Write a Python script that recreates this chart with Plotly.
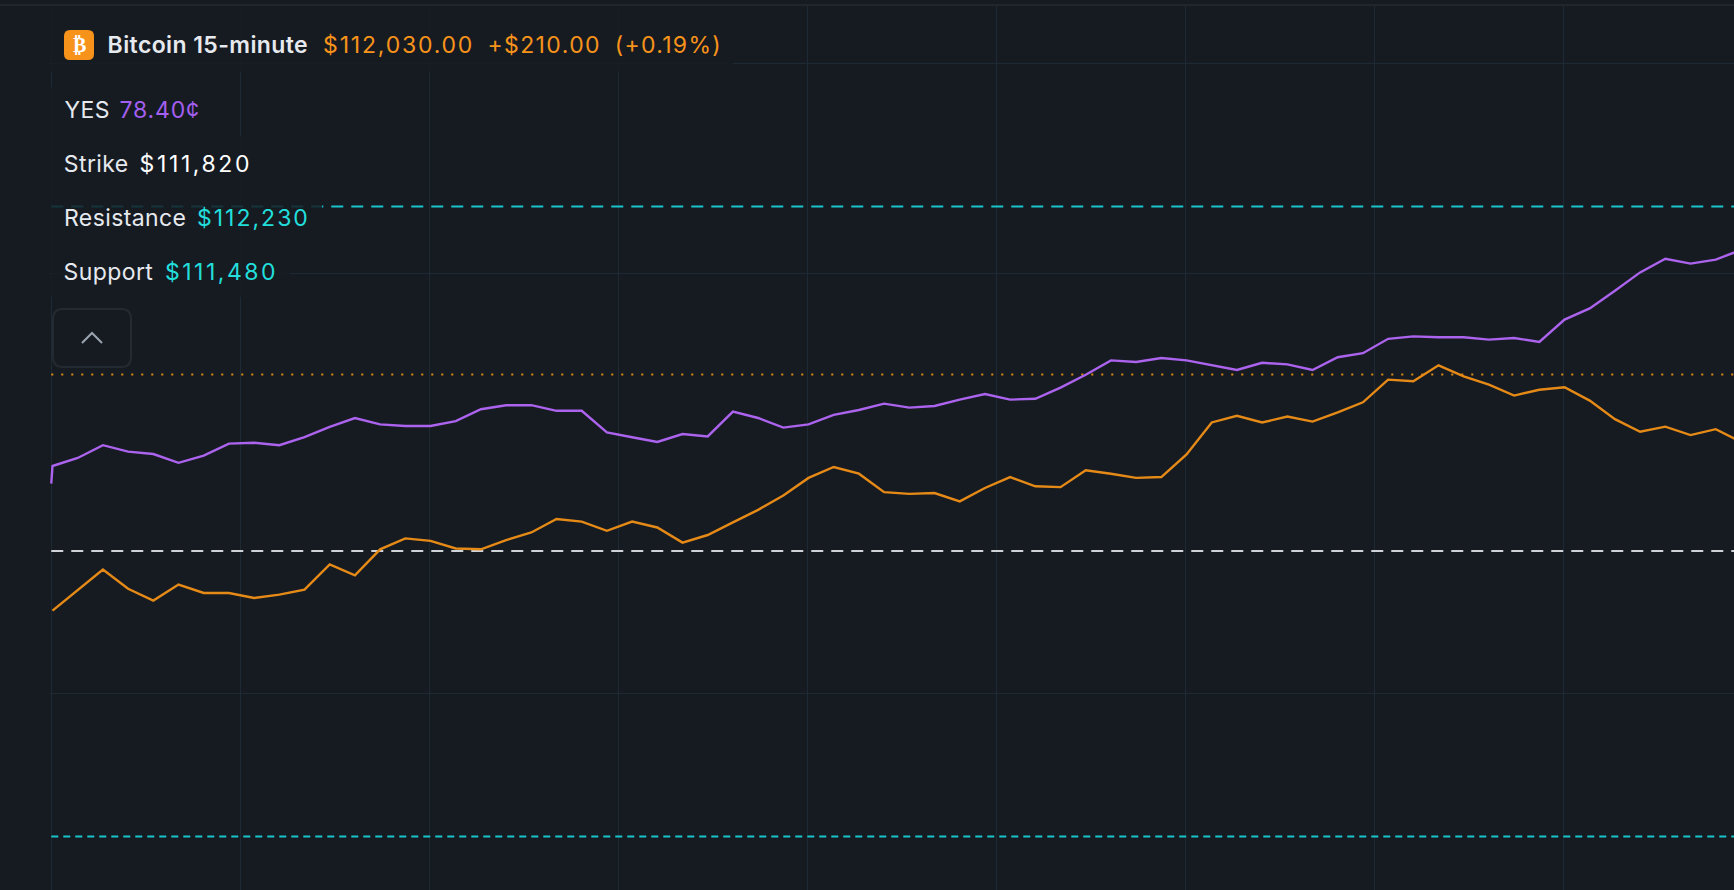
"""Bitcoin 15-minute market chart: spot price and YES contract price."""

import plotly.graph_objects as go

WIDTH = 1734
HEIGHT = 890
MARGIN_L = 50
MARGIN_T = 6

# seconds since the window opened
PRICE_TIMES = [
    0.2, 4.2, 8.2, 12.2, 16.2, 20.2, 24.2, 28.2, 32.2, 36.2, 40.2, 44.2, 48.2, 52.2, 56.2, 60.2, 64.2,
    68.2, 72.2, 76.2, 80.2, 84.2, 88.2, 92.2, 96.2, 100.2, 104.2, 108.2, 112.2, 116.2, 120.2, 124.2,
    128.2, 132.2, 136.2, 140.2, 144.2, 148.2, 152.2, 156.2, 160.2, 164.2, 168.2, 172.2, 176.2, 180.2,
    184.2, 188.2, 192.2, 196.2, 200.2, 204.2, 208.2, 212.2, 216.2, 220.2, 224.2, 228.2, 232.2, 236.2,
    240.2, 244.2, 248.2, 252.2, 256.2, 260.2, 264.2, 268.2,
]
YES_TIMES = [0.0] + PRICE_TIMES

BTC_PRICE = [
    111749, 111774, 111798, 111775, 111761, 111780, 111770, 111770, 111764, 111768, 111774, 111804,
    111791, 111822, 111835, 111832, 111823, 111822, 111833, 111842, 111858, 111855, 111844, 111855,
    111848, 111830, 111839, 111854, 111869, 111886, 111907, 111920, 111912, 111890, 111888, 111889,
    111879, 111895, 111908, 111897, 111896, 111916, 111912, 111907, 111908, 111935, 111973, 111981,
    111973, 111980, 111974, 111985, 111997, 112024, 112022, 112041, 112028, 112018, 112005, 112012,
    112015, 111999, 111977, 111962, 111968, 111958, 111965, 111950,
]
YES_CENTS = [
    49.2, 51.4, 52.4, 54.0, 53.2, 52.9, 51.8, 52.7, 54.2, 54.3, 54.0, 55.0, 56.3, 57.4, 56.6, 56.4, 56.4,
    57.0, 58.5, 59.0, 59.0, 58.3, 58.3, 55.6, 55.0, 54.4, 55.4, 55.1, 58.2, 57.4, 56.2, 56.6, 57.8, 58.4,
    59.2, 58.7, 58.9, 59.7, 60.4, 59.7, 59.8, 61.2, 62.8, 64.6, 64.4, 64.9, 64.6, 64.0, 63.4, 64.3, 64.1,
    63.4, 65.0, 65.5, 67.3, 67.6, 67.5, 67.5, 67.2, 67.4, 66.9, 69.7, 71.1, 73.3, 75.6, 77.3, 76.7, 77.2,
    78.4,
]

STRIKE = 111820
RESISTANCE = 112230
SUPPORT = 111480
SPOT = 112030

GRID_TIMES = [0, 30, 60, 90, 120, 150, 180, 210, 240]
GRID_PRICES = [111650, 112150, 112400]

TIME_RANGE = [-0.2, 267.1]
LEVEL_SPAN = [0, 267.1]
PRICE_RANGE = [111416.4, 112468.8]
CENTS_RANGE = [-1.6, 108.9]

PALETTE = {
    "bg": "#161b22",
    "grid": "#1e2a33",
    "band": "#20262d",
    "btc": "#e68a17",
    "yes": "#ac63ee",
    "strike": "#cfd2d6",
    "level": "#19c5cb",
    "dots": "#d98a14",
    "label": "#e6e9ee",
    "white": "#ffffff",
    "orange": "#f7931a",
    "purple": "#a35ff0",
    "cyan": "#22dfdc",
    "border": "#242a31",
    "chevron": "#9aa5b1",
}

SANS = "Inter, sans-serif"

# (x, y, text, colour, weight, letter spacing)
HEADER_TEXT = [
    (107, 45, "Bitcoin 15-minute", PALETTE["label"], 600, 0.4),
    (322, 45, "$112,030.00", PALETTE["orange"], 400, 1.8),
    (486, 45, "+$210.00", PALETTE["orange"], 400, 1.4),
    (614, 45, "(+0.19%)", PALETTE["orange"], 400, 1.3),
    (63, 110, "YES", PALETTE["label"], 400, 0.4),
    (118.5, 110, "78.40¢", PALETTE["purple"], 400, 0.8),
    (63, 164, "Strike", PALETTE["label"], 400, 0.4),
    (138.5, 164, "$111,820", PALETTE["white"], 400, 2.6),
    (63, 218, "Resistance", PALETTE["label"], 400, 0.4),
    (196, 218, "$112,230", PALETTE["cyan"], 400, 2.0),
    (63, 272, "Support", PALETTE["label"], 400, 0.4),
    (164, 272, "$111,480", PALETTE["cyan"], 400, 2.5),
]

# x0, y0, x1, y1 of the translucent boxes behind the header rows
ROW_MASKS = [
    (51, 6, 733, 72),
    (51, 87, 214, 136),
    (51, 136, 265, 190),
    (51, 190, 322, 245),
    (51, 245, 290, 297),
]


def _post_script() -> str:
    # page reset plus the letter spacing plotly has no attribute for
    rules = "".join(
        f'.annotation[data-index="{i}"] text {{letter-spacing: {row[5]}px;}} '
        for i, row in enumerate(HEADER_TEXT)
    )
    return (
        "document.body.style.margin = '0';"
        "document.body.style.overflow = 'hidden';"
        "var style = document.createElement('style');"
        f"style.textContent = '{rules}';"
        "document.head.appendChild(style);"
    )


def _px(x: float) -> float:
    return (x - MARGIN_L) / (WIDTH - MARGIN_L)


def _py(y: float) -> float:
    return 1 - (y - MARGIN_T) / (HEIGHT - MARGIN_T)


def _rounded_box(x0: float, y0: float, x1: float, y1: float, r: float) -> str:
    return (
        f"M {_px(x0 + r)} {_py(y0)} L {_px(x1 - r)} {_py(y0)} "
        f"Q {_px(x1)} {_py(y0)} {_px(x1)} {_py(y0 + r)} L {_px(x1)} {_py(y1 - r)} "
        f"Q {_px(x1)} {_py(y1)} {_px(x1 - r)} {_py(y1)} L {_px(x0 + r)} {_py(y1)} "
        f"Q {_px(x0)} {_py(y1)} {_px(x0)} {_py(y1 - r)} L {_px(x0)} {_py(y0 + r)} "
        f"Q {_px(x0)} {_py(y0)} {_px(x0 + r)} {_py(y0)} Z"
    )


def _level(fig: go.Figure, value: float, color: str, dash: str) -> None:
    fig.add_trace(
        go.Scatter(
            x=LEVEL_SPAN,
            y=[value, value],
            mode="lines",
            line={"color": color, "width": 2, "dash": dash},
            hoverinfo="skip",
        )
    )


def main() -> None:
    fig = go.Figure()

    _level(fig, STRIKE, PALETTE["strike"], "12px,8px")
    _level(fig, RESISTANCE, PALETTE["level"], "12px,8px")
    _level(fig, SUPPORT, PALETTE["level"], "7px,5px")
    _level(fig, SPOT, PALETTE["dots"], "2px,8px")

    fig.add_trace(
        go.Scatter(
            x=PRICE_TIMES,
            y=BTC_PRICE,
            mode="lines",
            line={"color": PALETTE["btc"], "width": 2.4},
        )
    )
    fig.add_trace(
        go.Scatter(
            x=YES_TIMES,
            y=YES_CENTS,
            yaxis="y2",
            mode="lines",
            line={"color": PALETTE["yes"], "width": 2.4},
        )
    )

    shapes = [
        {
            "type": "rect",
            "xref": "paper",
            "yref": "paper",
            "x0": _px(x0),
            "x1": _px(x1),
            "y0": _py(y0),
            "y1": _py(y1),
            "fillcolor": "rgba(22,27,34,0.85)",
            "line": {"width": 0},
            "layer": "above",
        }
        for x0, y0, x1, y1 in ROW_MASKS
    ]
    # thin band along the top of the panel
    shapes.append(
        {
            "type": "rect",
            "xref": "paper",
            "yref": "paper",
            "x0": _px(0),
            "x1": 1,
            "y0": _py(4),
            "y1": _py(6),
            "fillcolor": PALETTE["band"],
            "line": {"width": 0},
            "layer": "above",
        }
    )
    # coin icon and collapse button
    shapes.append(
        {
            "type": "path",
            "xref": "paper",
            "yref": "paper",
            "path": _rounded_box(64, 30, 94, 60, 6),
            "fillcolor": PALETTE["orange"],
            "line": {"width": 0},
            "layer": "above",
        }
    )
    shapes.append(
        {
            "type": "path",
            "xref": "paper",
            "yref": "paper",
            "path": _rounded_box(53, 309, 131, 367, 10),
            "line": {"color": PALETTE["border"], "width": 2},
            "layer": "above",
        }
    )
    shapes.append(
        {
            "type": "path",
            "xref": "paper",
            "yref": "paper",
            "path": f"M {_px(82)} {_py(343)} L {_px(92)} {_py(333)} L {_px(102)} {_py(343)}",
            "line": {"color": PALETTE["chevron"], "width": 2},
            "layer": "above",
        }
    )

    # the spacing is added after plotly measures the text, and the text grows
    # from its centre, so each label is moved right by half of what it gains
    annotations = [
        {
            "xref": "paper",
            "yref": "paper",
            "x": _px(x + len(text) * spacing / 2),
            "y": _py(y),
            "text": text,
            "showarrow": False,
            "xanchor": "left",
            "yanchor": "middle",
            "borderpad": 0,
            "font": {"family": SANS, "size": 23, "color": color, "weight": weight},
        }
        for x, y, text, color, weight, spacing in HEADER_TEXT
    ]
    annotations.append(
        {
            "xref": "paper",
            "yref": "paper",
            "x": _px(79),
            "y": _py(45),
            "text": "₿",
            "showarrow": False,
            "xanchor": "center",
            "yanchor": "middle",
            "borderpad": 0,
            "font": {"family": "DejaVu Sans", "size": 20, "color": PALETTE["white"], "weight": 700},
        }
    )

    fig.update_layout(
        width=WIDTH,
        height=HEIGHT,
        margin={"l": MARGIN_L, "r": 0, "t": MARGIN_T, "b": 0},
        paper_bgcolor=PALETTE["bg"],
        plot_bgcolor=PALETTE["bg"],
        showlegend=False,
        hovermode=False,
        shapes=shapes,
        annotations=annotations,
        xaxis={
            "range": TIME_RANGE,
            "tickvals": GRID_TIMES,
            "showticklabels": False,
            "gridcolor": PALETTE["grid"],
            "gridwidth": 1,
            "zeroline": False,
            "ticks": "",
        },
        yaxis={
            "range": PRICE_RANGE,
            "tickvals": GRID_PRICES,
            "showticklabels": False,
            "gridcolor": PALETTE["grid"],
            "gridwidth": 1,
            "zeroline": False,
            "ticks": "",
        },
        yaxis2={
            "range": CENTS_RANGE,
            "overlaying": "y",
            "side": "right",
            "visible": False,
            "showgrid": False,
        },
    )

    fig.write_html("out.html", post_script=_post_script(), config={"displayModeBar": False})


if __name__ == "__main__":
    main()
